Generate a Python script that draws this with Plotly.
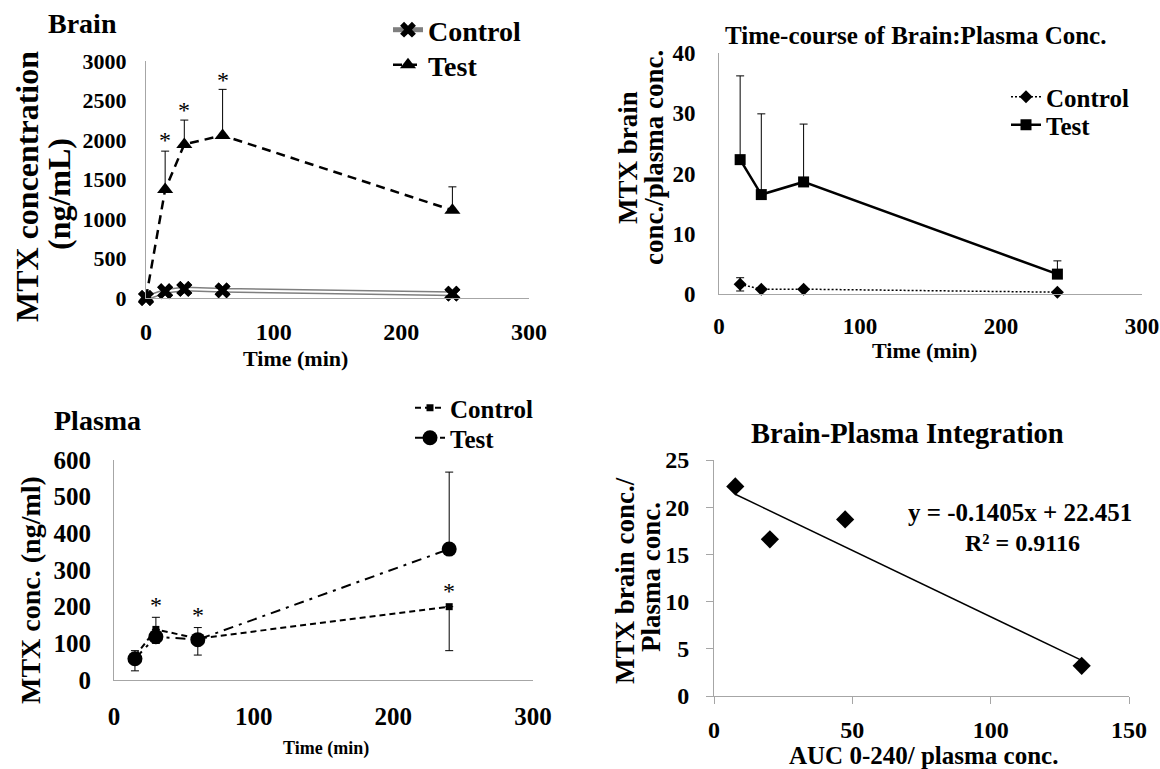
import numpy as np
import plotly.graph_objects as go

W, H = 1160, 769
FONT = "Liberation Serif"

# ---------------- data ----------------
# Panel A: Brain
brain_time = [0, 15, 30, 60, 240]
brain_control = [0, 85, 115, 97, 55]
brain_test = [0, 1372, 1944, 2058, 1111]
brain_test_err = [0, 487, 308, 583, 296]
brain_star_time = [15, 30, 60]
brain_star_y = [2000, 2380, 2760]

# Panel B: Brain:Plasma ratio time course
ratio_time = [15, 30, 60, 240]
ratio_control = [1.6, 0.8, 0.8, 0.3]
ratio_control_err = [1.1, 0, 0, 0]
ratio_test = [22.3, 16.5, 18.6, 3.3]
ratio_test_err = [13.9, 13.4, 9.6, 2.2]

# Panel C: Plasma
plasma_time = [15, 30, 60, 240]
plasma_control = [65, 138, 113, 200]
plasma_control_err_minus = [40, 38, 45, 120]
plasma_test = [58, 118, 110, 357]
plasma_test_err_plus = [22, 53, 33, 210]
plasma_star_time = [30, 60, 240]
plasma_star_y = [205, 177, 243]

# Panel D: Brain-Plasma integration
auc_ratio = [7.7, 20.2, 47.4, 132.9]
bp_ratio = [22.2, 16.6, 18.7, 3.2]
fit_slope = -0.1405
fit_intercept = 22.451
fit_r2 = 0.9116


def px(x):
    return x / W


def py(y):
    return 1 - y / H


def bfont(size, color="black", bold=True):
    d = dict(family=FONT, size=size, color=color)
    if bold:
        d["weight"] = "bold"
    return d


fig = go.Figure()

# ---------- Panel A ----------
fig.add_trace(go.Scatter(x=brain_time, y=brain_control, mode="lines+markers", name="Control",
                         line=dict(color="#7f7f7f", width=5),
                         marker=dict(symbol="x", size=14, color="black"),
                         xaxis="x", yaxis="y", legend="legend", cliponaxis=False))
fig.add_trace(go.Scatter(x=brain_time, y=brain_control, mode="lines", showlegend=False,
                         line=dict(color="white", width=2), hoverinfo="skip",
                         xaxis="x", yaxis="y", cliponaxis=False))
fig.add_trace(go.Scatter(x=brain_time, y=brain_control, mode="markers", showlegend=False,
                         marker=dict(symbol="x", size=14, color="black"),
                         xaxis="x", yaxis="y", cliponaxis=False))
fig.add_trace(go.Scatter(x=brain_time, y=brain_test, mode="lines+markers", name="Test",
                         line=dict(color="black", width=2.5, dash="9px,6px"),
                         marker=dict(symbol="triangle-up", size=14, color="black"),
                         error_y=dict(type="data", symmetric=False, array=brain_test_err,
                                      arrayminus=[0] * len(brain_test_err),
                                      color="black", thickness=1, width=4),
                         xaxis="x", yaxis="y", legend="legend2", cliponaxis=False))

# ---------- Panel B ----------
fig.add_trace(go.Scatter(x=ratio_time, y=ratio_control, mode="lines+markers", name="Control",
                         line=dict(color="black", width=1.5, dash="2px,2px"),
                         marker=dict(symbol="diamond", size=10, color="black"),
                         error_y=dict(type="data", array=ratio_control_err,
                                      color="black", thickness=1, width=4),
                         xaxis="x2", yaxis="y2", legend="legend3", cliponaxis=False))
fig.add_trace(go.Scatter(x=ratio_time, y=ratio_test, mode="lines+markers", name="Test",
                         line=dict(color="black", width=2.5),
                         marker=dict(symbol="square", size=11, color="black"),
                         error_y=dict(type="data", symmetric=False, array=ratio_test_err,
                                      arrayminus=[0] * len(ratio_test_err),
                                      color="black", thickness=1, width=4),
                         xaxis="x2", yaxis="y2", legend="legend4", cliponaxis=False))

# ---------- Panel C ----------
fig.add_trace(go.Scatter(x=plasma_time, y=plasma_control, mode="lines+markers", name="Control",
                         line=dict(color="black", width=2, dash="6px,4px"),
                         marker=dict(symbol="square", size=7, color="black"),
                         error_y=dict(type="data", symmetric=False,
                                      array=[0] * len(plasma_control_err_minus),
                                      arrayminus=plasma_control_err_minus,
                                      color="black", thickness=1, width=4),
                         xaxis="x3", yaxis="y3", legend="legend5", cliponaxis=False))
fig.add_trace(go.Scatter(x=plasma_time, y=plasma_test, mode="lines+markers", name="Test",
                         line=dict(color="black", width=2, dash="10px,6px,3px,6px"),
                         marker=dict(symbol="circle", size=15, color="black"),
                         error_y=dict(type="data", symmetric=False, array=plasma_test_err_plus,
                                      arrayminus=[0] * len(plasma_test_err_plus),
                                      color="black", thickness=1, width=4),
                         xaxis="x3", yaxis="y3", legend="legend6", cliponaxis=False))

# ---------- Panel D ----------
fig.add_trace(go.Scatter(x=auc_ratio, y=bp_ratio, mode="markers", showlegend=False,
                         marker=dict(symbol="diamond", size=14, color="black"),
                         xaxis="x4", yaxis="y4", cliponaxis=False))
fit_x = np.array([min(auc_ratio), max(auc_ratio)])
fit_y = fit_slope * fit_x + fit_intercept
fig.add_trace(go.Scatter(x=fit_x, y=fit_y, mode="lines", showlegend=False,
                         line=dict(color="black", width=1.5),
                         xaxis="x4", yaxis="y4"))


# ---------- axes ----------
def axis(domain, rng, dtick, anchor, size, standoff, ticks=""):
    return dict(domain=domain, range=rng, dtick=dtick, tick0=0, anchor=anchor,
                showline=True, linecolor="#a6a6a6", linewidth=1, automargin=False,
                showgrid=False, zeroline=False, ticks=ticks, ticklen=7,
                tickcolor="#a6a6a6", tickwidth=1,
                tickfont=bfont(size), ticklabelstandoff=standoff, fixedrange=True)


def leg(x, y, size):
    return dict(x=px(x), y=py(y), xanchor="left", yanchor="middle",
                font=bfont(size), bgcolor="rgba(0,0,0,0)", borderwidth=0)


layout = dict(
    template="none",
    width=W, height=H, margin=dict(l=0, r=0, t=0, b=0, autoexpand=False),
    paper_bgcolor="white", plot_bgcolor="white", showlegend=True,
    xaxis=axis([px(146), px(529)], [0, 300], 100, "y", 24, 12),
    yaxis=axis([py(298), py(61)], [0, 3000], 500, "x", 22, 14),
    xaxis2=axis([px(719), px(1142)], [0, 300], 100, "y2", 23, 11),
    yaxis2=axis([py(294), py(53)], [0, 40], 10, "x2", 23, 18),
    xaxis3=axis([px(114), px(533)], [0, 300], 100, "y3", 25, 14),
    yaxis3=axis([py(680), py(460)], [0, 600], 100, "x3", 25, 17),
    xaxis4=axis([px(714), px(1129)], [0, 150], 50, "y4", 24, 5, ticks="outside"),
    yaxis4=axis([py(696), py(460)], [0, 25], 5, "x4", 24, 12, ticks="outside"),
    legend=leg(388, 30, 28),
    legend2=leg(388, 65, 28),
    legend3=leg(1006, 97, 25),
    legend4=leg(1006, 125, 25),
    legend5=leg(410, 408, 25),
    legend6=leg(410, 438, 25),
)

ann = []


def text(t, x, y, size, angle=0, xanchor="center", bold=True):
    ann.append(dict(text=t, x=px(x), y=py(y), xref="paper", yref="paper",
                    showarrow=False, textangle=angle, xanchor=xanchor, yanchor="middle",
                    font=bfont(size, bold=bold)))


# titles
text("Brain", 46, 23, 28, xanchor="left")
text("Time-course of Brain:Plasma Conc.", 915, 35, 25)
text("Plasma", 52, 420, 28, xanchor="left")
text("Brain-Plasma Integration", 907, 433, 28.5)
# axis titles
text("MTX concentration", 27, 187, 32, angle=-90)
text("(ng/mL)", 59, 194, 32, angle=-90)
text("Time (min)", 295, 358, 22)
text("MTX brain", 628, 158, 27, angle=-90)
text("conc./plasma conc.", 654, 158, 27, angle=-90)
text("Time (min)", 924, 350, 22)
text("MTX conc. (ng/ml)", 30, 590, 28, angle=-90)
text("Time (min)", 326, 748, 18)
text("MTX brain conc./", 625, 581, 27, angle=-90)
text("Plasma conc.", 651, 577, 27, angle=-90)
text("AUC 0-240/ plasma conc.", 923, 755, 25)
# regression text
text(f"y = {fit_slope}x + {fit_intercept}", 1020, 512, 25)
text(f"R² = {fit_r2}", 1022, 543, 24)

# significance asterisks
for t, v in zip(brain_star_time, brain_star_y):
    ann.append(dict(text="*", x=t, y=v, xref="x", yref="y", showarrow=False,
                    yanchor="middle", yshift=0, font=dict(family=FONT, size=24, color="black")))
for t, v in zip(plasma_star_time, plasma_star_y):
    ann.append(dict(text="*", x=t, y=v, xref="x3", yref="y3", showarrow=False,
                    yanchor="middle", yshift=0, font=dict(family=FONT, size=24, color="black")))

layout["annotations"] = ann
fig.update_layout(**layout)
fig.write_html("out.html", config={"displayModeBar": False},
               post_script="document.body.style.margin='0';document.body.style.padding='0';")
